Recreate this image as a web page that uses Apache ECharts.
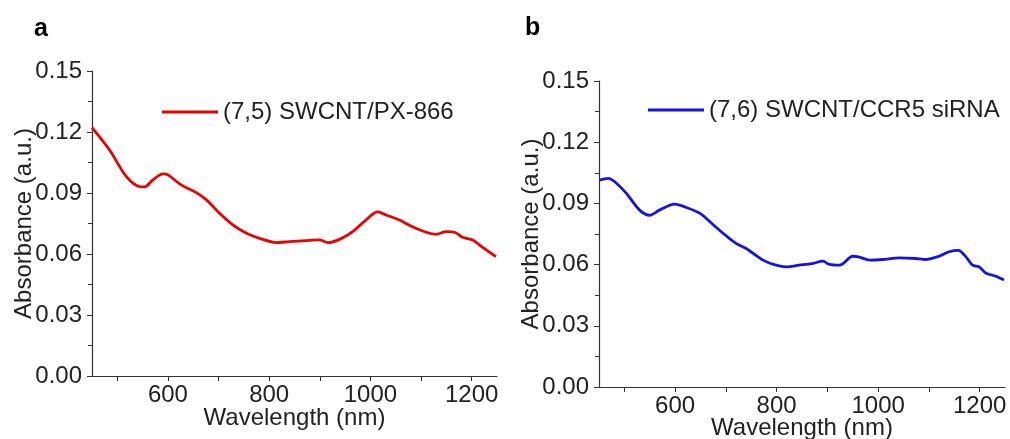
<!DOCTYPE html>
<html>
<head>
<meta charset="utf-8">
<script src="https://cdn.jsdelivr.net/npm/echarts@6/dist/echarts.min.js"></script>
<style>
    html, body { margin: 0; padding: 0; background: #fff; }
    #chart { width: 1010px; height: 439px; }
</style>
</head>
<body>
<div id="chart"></div>
<script>
    // (a) (7,5) SWCNT/PX-866
    var wavelengthA = [450, 485, 518, 544, 554, 570, 590, 600, 626, 656, 676, 702, 728, 755, 781, 814, 840, 873, 899, 916, 939, 965, 991, 1014, 1031, 1057, 1083, 1110, 1130, 1149, 1166, 1182, 1202, 1218, 1248];
    var absorbanceA = [0.1221, 0.111, 0.098, 0.0931, 0.093, 0.0964, 0.0994, 0.0989, 0.094, 0.0902, 0.0866, 0.080, 0.0743, 0.0702, 0.0677, 0.0656, 0.0661, 0.0666, 0.0669, 0.0656, 0.0672, 0.0710, 0.0767, 0.0807, 0.0792, 0.0767, 0.0734, 0.0707, 0.0697, 0.071, 0.0707, 0.0682, 0.0669, 0.0639, 0.0587];

    // (b) (7,6) SWCNT/CCR5 siRNA
    var wavelengthB = [451, 468, 481, 504, 530, 550, 569, 599, 622, 649, 674, 701, 720, 740, 773, 799, 819, 844, 870, 891, 904, 924, 950, 963, 983, 1009, 1041, 1074, 1093, 1120, 1140, 1158, 1173, 1186, 1199, 1212, 1232, 1248];
    var absorbanceB = [0.1014, 0.1023, 0.1006, 0.0949, 0.0867, 0.0842, 0.0867, 0.0896, 0.088, 0.0851, 0.0798, 0.074, 0.0704, 0.0679, 0.0622, 0.0597, 0.0589, 0.0597, 0.0605, 0.0617, 0.0601, 0.0597, 0.0641, 0.0637, 0.0622, 0.0625, 0.0633, 0.0630, 0.0625, 0.0641, 0.0663, 0.067, 0.0638, 0.0597, 0.0589, 0.0559, 0.0543, 0.0524];

    var xLabels = [600, 800, 1000, 1200];
    var xTicks = [500, 600, 700, 800, 900, 1000, 1100, 1200];

    var nameA = '(7,5) SWCNT/PX-866';
    var nameB = '(7,6) SWCNT/CCR5 siRNA';

    function pairs(xs, ys) {
        return xs.map(function (x, i) { return [x, ys[i]]; });
    }

    var font = 'Liberation Sans, Arial, sans-serif';

    function makeX(idx, gap) {
        return {
            type: 'value', gridIndex: idx, min: 450, max: 1250,
            name: 'Wavelength (nm)', nameLocation: 'middle', nameGap: gap, nameMoveOverlap: false,
            nameTextStyle: {fontSize: 24, color: '#222', fontFamily: font},
            axisLine: {lineStyle: {color: '#333', width: 1.2}},
            axisTick: {customValues: xTicks, length: 5, lineStyle: {color: '#333'}},
            axisLabel: {customValues: xLabels, fontSize: 24, color: '#222', fontFamily: font, margin: 7,
                formatter: function (v) { return String(v); }},
            splitLine: {show: false}
        };
    }

    function makeY(idx) {
        return {
            type: 'value', gridIndex: idx, min: 0, max: 0.15, interval: 0.03,
            name: 'Absorbance (a.u.)', nameLocation: 'middle', nameGap: 56, nameRotate: 90, nameMoveOverlap: false,
            nameTextStyle: {fontSize: 24, color: '#222', fontFamily: font},
            axisLine: {show: true, lineStyle: {color: '#333', width: 1.2}},
            axisTick: {length: 5, lineStyle: {color: '#333'}},
            minorTick: {show: true, splitNumber: 2, length: 4, lineStyle: {color: '#333'}},
            axisLabel: {fontSize: 24, color: '#222', fontFamily: font, margin: 10,
                formatter: function (v) { return v.toFixed(2); }},
            splitLine: {show: false}
        };
    }

    var chart = echarts.init(document.getElementById('chart'));
    chart.setOption({
        animation: false,
        backgroundColor: '#fff',
        title: [
            {text: 'a', left: 29, top: 12, textStyle: {fontSize: 25, fontWeight: 'bold', color: '#000', fontFamily: font}},
            {text: 'b', left: 520, top: 11, textStyle: {fontSize: 25, fontWeight: 'bold', color: '#000', fontFamily: font}}
        ],
        legend: [
            {data: [nameA], left: 157, top: 95, icon: 'rect', itemWidth: 56, itemHeight: 3,
                textStyle: {fontSize: 24, color: '#222', fontFamily: font}},
            {data: [nameB], left: 643, top: 93, icon: 'rect', itemWidth: 56, itemHeight: 3,
                textStyle: {fontSize: 24, color: '#222', fontFamily: font}}
        ],
        grid: [
            {left: 92, top: 71, width: 405, height: 305, outerBoundsMode: 'none'},
            {left: 599, top: 81, width: 406, height: 306, outerBoundsMode: 'none'}
        ],
        xAxis: [makeX(0, 30), makeX(1, 29)],
        yAxis: [makeY(0), makeY(1)],
        series: [
            {
                name: nameA, type: 'line', xAxisIndex: 0, yAxisIndex: 0,
                symbol: 'none', smooth: 0.3,
                lineStyle: {color: '#e60000', width: 2.8},
                itemStyle: {color: '#e60000'},
                data: pairs(wavelengthA, absorbanceA)
            },
            {
                name: nameB, type: 'line', xAxisIndex: 1, yAxisIndex: 1,
                symbol: 'none', smooth: 0.3,
                lineStyle: {color: '#1414dc', width: 2.8},
                itemStyle: {color: '#1414dc'},
                data: pairs(wavelengthB, absorbanceB)
            }
        ]
    });
</script>
</body>
</html>
